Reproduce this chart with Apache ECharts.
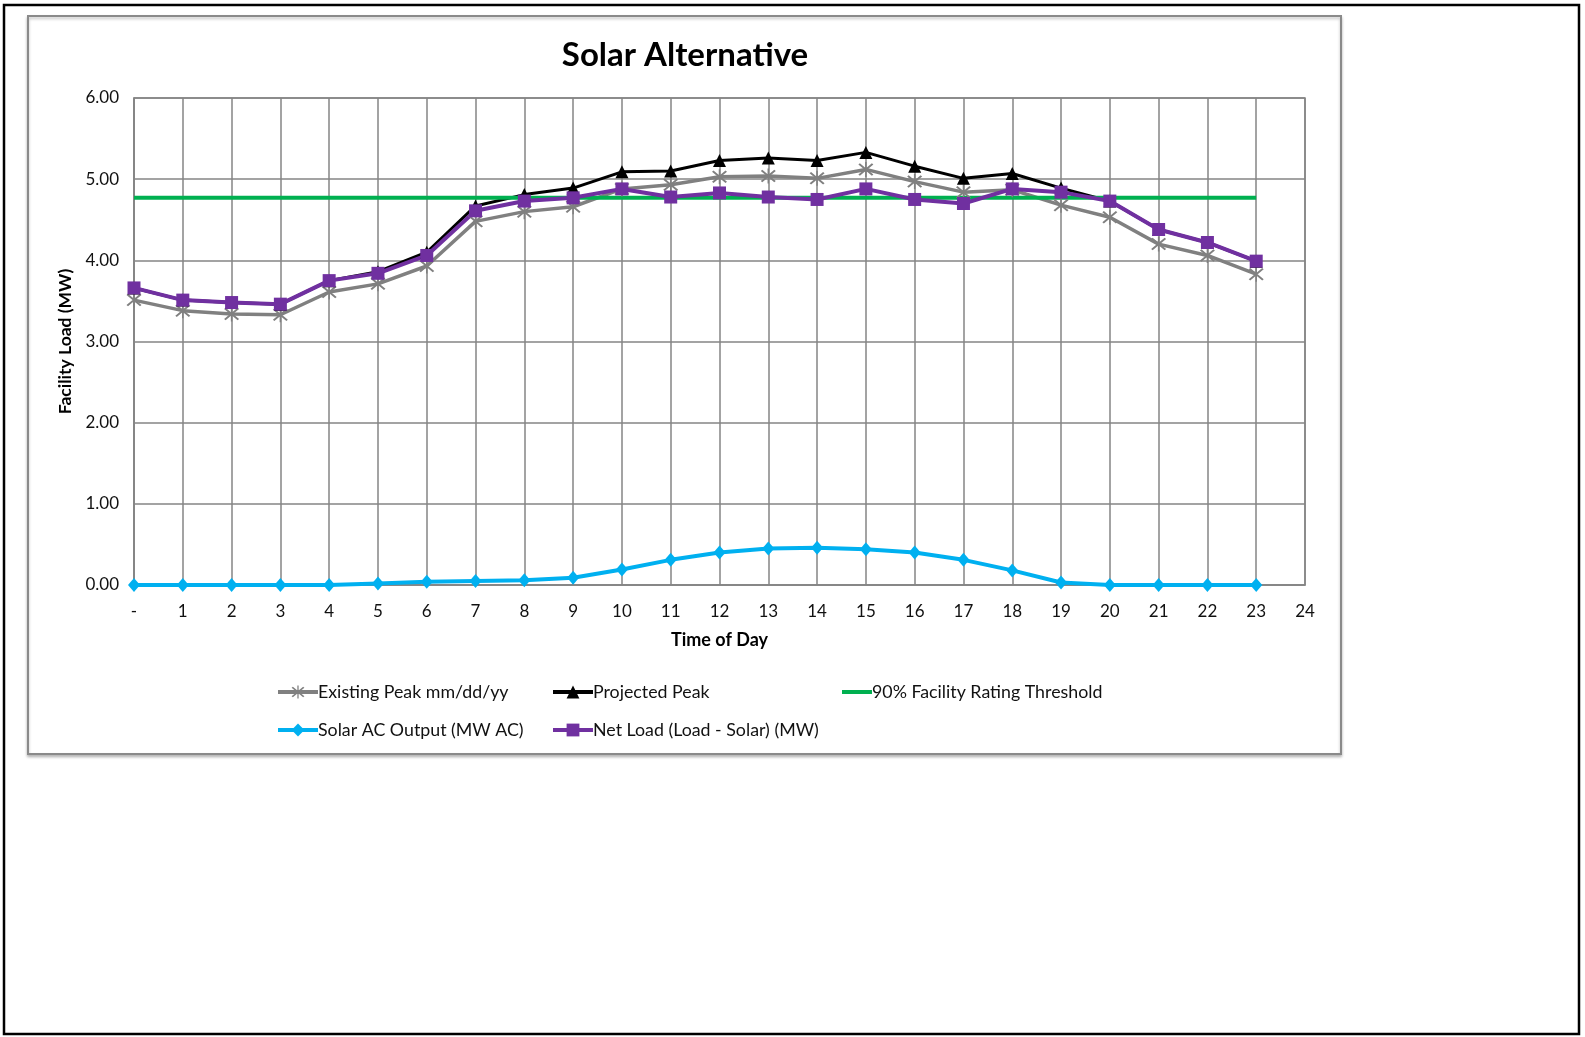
<!DOCTYPE html>
<html>
<head>
<meta charset="utf-8">
<script src="https://cdn.jsdelivr.net/npm/echarts@6/dist/echarts.min.js"></script>
<style>
  html, body { margin: 0; padding: 0; background: #ffffff; }
  #chart { width: 1585px; height: 1037px; }
</style>
</head>
<body>
<div id="chart"></div>
<script>
// Hour of day (x values)
const hours = [0, 1, 2, 3, 4, 5, 6, 7, 8, 9, 10, 11, 12, 13, 14, 15, 16, 17, 18, 19, 20, 21, 22, 23];

// Facility load profiles, MW
const existingPeak = [3.51, 3.38, 3.34, 3.33, 3.61, 3.71, 3.93, 4.48, 4.60, 4.66, 4.88, 4.93,
                      5.03, 5.04, 5.01, 5.12, 4.97, 4.84, 4.87, 4.68, 4.53, 4.20, 4.06, 3.83];
const projectedPeak = [3.66, 3.51, 3.48, 3.46, 3.75, 3.86, 4.10, 4.67, 4.81, 4.89, 5.09, 5.10,
                       5.23, 5.26, 5.23, 5.33, 5.16, 5.01, 5.07, 4.89, 4.73, 4.38, 4.22, 3.99];
const ratingThreshold = [4.77, 4.77, 4.77, 4.77, 4.77, 4.77, 4.77, 4.77, 4.77, 4.77, 4.77, 4.77,
                         4.77, 4.77, 4.77, 4.77, 4.77, 4.77, 4.77, 4.77, 4.77, 4.77, 4.77, 4.77];
const solarOutput = [0.00, 0.00, 0.00, 0.00, 0.00, 0.02, 0.04, 0.05, 0.06, 0.09, 0.19, 0.31,
                     0.40, 0.45, 0.46, 0.44, 0.40, 0.31, 0.18, 0.03, 0.00, 0.00, 0.00, 0.00];
const netLoad = [3.66, 3.51, 3.48, 3.46, 3.75, 3.84, 4.06, 4.61, 4.73, 4.77, 4.88, 4.78,
                 4.83, 4.78, 4.75, 4.88, 4.75, 4.70, 4.88, 4.84, 4.73, 4.38, 4.22, 3.99];

// Axis tick labels
const hourLabels = ['-', '1', '2', '3', '4', '5', '6', '7', '8', '9', '10', '11', '12',
                    '13', '14', '15', '16', '17', '18', '19', '20', '21', '22', '23', '24'];
const loadLabels = ['0.00', '1.00', '2.00', '3.00', '4.00', '5.00', '6.00'];

// Series names
const seriesNames = ['Existing Peak mm/dd/yy', 'Projected Peak', '90% Facility Rating Threshold',
                     'Solar AC Output (MW AC)', 'Net Load (Load - Solar) (MW)'];

const FONT = 'Lato, "Noto Sans", sans-serif';
const GRID_COLOR = '#858585';

// Asterisk-style marker: vertical bar crossed by an X
const starSymbol = 'path://M11,0 L13,0 L13,24 L11,24 Z M2,4 L4,2 L22,20 L20,22 Z M20,2 L22,4 L4,22 L2,20 Z';

const pairs = vals => hours.map((h, i) => [h, vals[i]]);

const chart = echarts.init(document.getElementById('chart'), null, { renderer: 'canvas' });

function legendAt(entry, left, top, extra) {
  return Object.assign({
    data: [entry],
    left: left,
    top: top,
    orient: 'horizontal',
    itemWidth: 40,
    itemHeight: 16,
    selectedMode: false,
    lineStyle: { width: 4 },
    textStyle: { fontFamily: FONT, fontSize: 17.8, color: '#111111', padding: [0, 0, 0, -5] }
  }, extra || {});
}

const option = {
  animation: false,
  backgroundColor: '#ffffff',
  title: {
    text: 'Solar Alternative',
    left: 680,
    top: 34,
    textAlign: 'center',
    textStyle: { fontFamily: FONT, fontSize: 33, fontWeight: 'bold', color: '#000000' }
  },
  graphic: [
    { // page frame
      type: 'rect', silent: true, z: -10,
      shape: { x: 4, y: 5, width: 1575, height: 1029 },
      style: { fill: 'none', stroke: '#000000', lineWidth: 2.5 }
    },
    { // chart area frame
      type: 'rect', silent: true, z: -9,
      shape: { x: 28, y: 16, width: 1313, height: 738 },
      style: {
        fill: '#ffffff', stroke: '#8a8a8a', lineWidth: 2,
        shadowColor: 'rgba(0,0,0,0.25)', shadowBlur: 3, shadowOffsetY: 2
      }
    }
  ],
  legend: [
    legendAt(seriesNames[0], 271, 678),
    legendAt(seriesNames[1], 546, 678),
    legendAt({ name: seriesNames[2], icon: 'rect' }, 837, 678,
             { itemWidth: 30, itemHeight: 4 }),
    legendAt(seriesNames[3], 271, 716),
    legendAt(seriesNames[4], 546, 716)
  ],
  grid: {
    left: 134, top: 98, right: 280, bottom: 452,
    show: true, borderColor: GRID_COLOR, borderWidth: 1.5, backgroundColor: 'transparent'
  },
  xAxis: {
    type: 'value',
    min: 0, max: 24, interval: 1,
    name: 'Time of Day',
    nameLocation: 'middle',
    nameGap: 46,
    nameTextStyle: { fontFamily: FONT, fontSize: 18, fontWeight: 'bold', color: '#000000' },
    axisLine: { show: true, lineStyle: { color: GRID_COLOR, width: 1.5 } },
    axisTick: { show: false },
    axisLabel: {
      margin: 18,
      fontFamily: FONT, fontSize: 17, color: '#111111',
      formatter: v => hourLabels[Math.round(v)]
    },
    splitLine: { show: true, lineStyle: { color: GRID_COLOR, width: 1.5 } }
  },
  yAxis: {
    type: 'value',
    min: 0, max: 6, interval: 1,
    name: 'Facility Load (MW)',
    nameLocation: 'middle',
    nameGap: 60,
    nameTextStyle: { fontFamily: FONT, fontSize: 17.5, fontWeight: 'bold', color: '#000000' },
    axisLine: { show: true, lineStyle: { color: GRID_COLOR, width: 1.5 } },
    axisTick: { show: false },
    axisLabel: {
      margin: 15,
      fontFamily: FONT, fontSize: 17, color: '#111111',
      formatter: v => loadLabels[Math.round(v)]
    },
    splitLine: { show: true, lineStyle: { color: GRID_COLOR, width: 1.5 } }
  },
  series: [
    {
      name: seriesNames[0], type: 'line', data: pairs(existingPeak),
      symbol: starSymbol, symbolSize: 15, showAllSymbol: true,
      lineStyle: { color: '#808080', width: 3.5 },
      itemStyle: { color: '#808080' }
    },
    {
      name: seriesNames[1], type: 'line', data: pairs(projectedPeak),
      symbol: 'triangle', symbolSize: 13, showAllSymbol: true,
      lineStyle: { color: '#000000', width: 3 },
      itemStyle: { color: '#000000' }
    },
    {
      name: seriesNames[2], type: 'line', data: pairs(ratingThreshold),
      symbol: 'none',
      lineStyle: { color: '#00b050', width: 4 },
      itemStyle: { color: '#00b050' }
    },
    {
      name: seriesNames[3], type: 'line', data: pairs(solarOutput),
      symbol: 'diamond', symbolSize: [12, 14], showAllSymbol: true,
      lineStyle: { color: '#00b0f0', width: 4 },
      itemStyle: { color: '#00b0f0' }
    },
    {
      name: seriesNames[4], type: 'line', data: pairs(netLoad),
      symbol: 'rect', symbolSize: 13, showAllSymbol: true,
      lineStyle: { color: '#7030a0', width: 4 },
      itemStyle: { color: '#7030a0' }
    }
  ]
};

chart.setOption(option);
</script>
</body>
</html>
